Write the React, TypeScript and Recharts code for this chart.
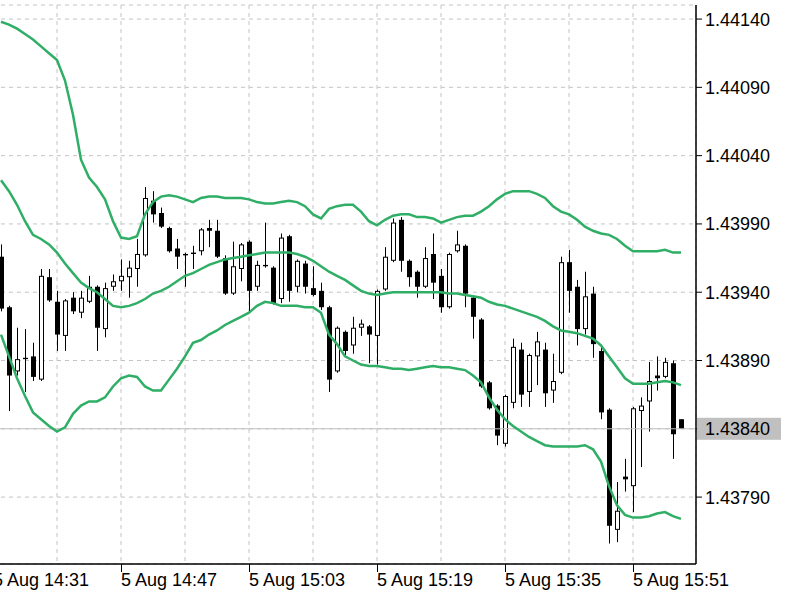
import React from "react";
import { ComposedChart, Bar, Line, XAxis, YAxis, CartesianGrid, ReferenceLine } from "recharts";

// 1-minute bars, 5 Aug 14:32 .. 15:57 (index 0 = 14:32)
const openPx = [
    1.43966, 1.43929, 1.43882, 1.43892, 1.43893, 1.43876, 1.43951, 1.43933, 1.43908, 1.43936,
    1.43925, 1.43933, 1.43944, 1.43913, 1.43944, 1.43948, 1.43951, 1.43957, 1.43967, 1.44007,
    1.43998, 1.43987, 1.43972, 1.43968, 1.43969, 1.4397, 1.43987, 1.43985, 1.43965, 1.43939,
    1.43957, 1.43977, 1.43944, 1.4396, 1.43958, 1.43935, 1.43981, 1.43944, 1.43961, 1.43943,
    1.43941, 1.43929, 1.43882, 1.43911, 1.43901, 1.43914, 1.43915, 1.43908, 1.43942, 1.43963,
    1.43993, 1.43963, 1.43955, 1.43944, 1.43968, 1.43952, 1.43929, 1.4397, 1.43974, 1.43936,
    1.4392, 1.43874, 1.43857, 1.43829, 1.43859, 1.43898, 1.43867, 1.43893, 1.43898, 1.43868,
    1.43881, 1.43962, 1.43944, 1.43913, 1.43939, 1.43897, 1.43854, 1.43766, 1.43805, 1.43798,
    1.43853, 1.4386, 1.43879, 1.43878, 1.43888, 1.43847,
];
const highPx = [
    1.43975, 1.4393, 1.43914, 1.43913, 1.43903, 1.43957, 1.43957, 1.43941, 1.43935, 1.4394,
    1.43941, 1.43952, 1.43945, 1.43947, 1.43953, 1.43964, 1.43963, 1.43979, 1.44017, 1.44014,
    1.44002, 1.43988, 1.43979, 1.43969, 1.43974, 1.43987, 1.43993, 1.43993, 1.43967, 1.43977,
    1.43976, 1.43978, 1.43963, 1.43991, 1.43959, 1.43983, 1.43982, 1.43964, 1.43963, 1.43959,
    1.43947, 1.4393, 1.43915, 1.43912, 1.43922, 1.4392, 1.43916, 1.43942, 1.43973, 1.43994,
    1.43995, 1.43964, 1.43956, 1.43973, 1.43983, 1.43957, 1.43969, 1.43985, 1.43975, 1.43937,
    1.43921, 1.43875, 1.43858, 1.43865, 1.43906, 1.43903, 1.43895, 1.43911, 1.43903, 1.43895,
    1.43966, 1.43971, 1.43949, 1.43955, 1.43944, 1.439, 1.43855, 1.43801, 1.43818, 1.43856,
    1.43863, 1.43889, 1.43893, 1.43892, 1.4389, 1.43847,
];
const lowPx = [
    1.43926, 1.43853, 1.43879, 1.43867, 1.43875, 1.43875, 1.43933, 1.43897, 1.43897, 1.43924,
    1.43921, 1.43932, 1.43897, 1.43907, 1.43941, 1.43941, 1.43936, 1.43944, 1.43966, 1.43991,
    1.43987, 1.43969, 1.43957, 1.43944, 1.43957, 1.43967, 1.43973, 1.43965, 1.43938, 1.43938,
    1.43948, 1.43925, 1.43941, 1.43958, 1.43931, 1.43932, 1.43933, 1.4394, 1.43939, 1.43937,
    1.43927, 1.43867, 1.43881, 1.43894, 1.43895, 1.43908, 1.43888, 1.43887, 1.43941, 1.43962,
    1.43955, 1.43944, 1.43936, 1.43943, 1.43935, 1.43925, 1.43928, 1.43969, 1.43929, 1.43906,
    1.4387, 1.43854, 1.43828, 1.43827, 1.43855, 1.43856, 1.43856, 1.43872, 1.43856, 1.43859,
    1.4388, 1.43925, 1.43901, 1.43909, 1.43892, 1.43847, 1.43756, 1.43757, 1.43794, 1.43779,
    1.43812, 1.43838, 1.43868, 1.43877, 1.43818, 1.4384,
];
const closePx = [
    1.43928, 1.43879, 1.43891, 1.43891, 1.43878, 1.43952, 1.43934, 1.43909, 1.43934, 1.43926,
    1.43936, 1.43944, 1.43914, 1.43943, 1.43948, 1.43952, 1.43958, 1.43968, 1.44009, 1.43997,
    1.43988, 1.4397, 1.43966, 1.43967, 1.43968, 1.43986, 1.43985, 1.43966, 1.43939, 1.43959,
    1.43975, 1.43941, 1.4396, 1.43959, 1.43932, 1.4398, 1.43941, 1.43963, 1.43944, 1.43938,
    1.43929, 1.43876, 1.43914, 1.43897, 1.43914, 1.43917, 1.43909, 1.43941, 1.43966, 1.43991,
    1.43963, 1.43951, 1.43944, 1.43965, 1.43947, 1.43929, 1.43968, 1.43975, 1.43939, 1.43922,
    1.43871, 1.43855, 1.43835, 1.43864, 1.439, 1.43865, 1.43894, 1.43904, 1.43866, 1.43875,
    1.43962, 1.43941, 1.43913, 1.43937, 1.43902, 1.43852, 1.43769, 1.4378, 1.43803, 1.43855,
    1.43857, 1.43875, 1.43877, 1.43889, 1.43836, 1.4384,
];

// Bollinger bands
const upperBand = [
    1.44138, 1.44136, 1.44133, 1.44129, 1.44125, 1.4412, 1.44115, 1.4411, 1.44095, 1.4407,
    1.44037, 1.44024, 1.44017, 1.44008, 1.43992, 1.4398, 1.43979, 1.43981, 1.43997, 1.44006,
    1.4401, 1.44011, 1.4401, 1.44008, 1.44006, 1.44009, 1.4401, 1.4401, 1.44009, 1.44009,
    1.44009, 1.44008, 1.44006, 1.44005, 1.44005, 1.44006, 1.44007, 1.44006, 1.44003, 1.43997,
    1.43994, 1.44001, 1.44003, 1.44004, 1.44004, 1.43999, 1.43992, 1.43989, 1.43993, 1.43996,
    1.43997, 1.43997, 1.43995, 1.43995, 1.43994, 1.43991, 1.43993, 1.43995, 1.43996, 1.43996,
    1.43999, 1.44003, 1.44008, 1.44012, 1.44014, 1.44014, 1.44014, 1.44012, 1.44009, 1.44003,
    1.43999, 1.43997, 1.43993, 1.43988, 1.43985, 1.43983, 1.43982, 1.43979, 1.43974, 1.4397,
    1.4397, 1.4397, 1.4397, 1.43971, 1.43969, 1.43969,
];
const middleBand = [
    1.44022, 1.44014, 1.44004, 1.43992, 1.43982, 1.43979, 1.43975, 1.43969, 1.43961, 1.43954,
    1.43947, 1.43943, 1.4394, 1.43935, 1.4393, 1.43929, 1.4393, 1.43932, 1.43935, 1.43939,
    1.43941, 1.43944, 1.43948, 1.43952, 1.43954, 1.43957, 1.4396, 1.43962, 1.43964, 1.43965,
    1.43966, 1.43967, 1.43968, 1.43969, 1.43969, 1.43969, 1.43969, 1.43968, 1.43966, 1.43963,
    1.43959, 1.43955, 1.43952, 1.43949, 1.43945, 1.43941, 1.43939, 1.43938, 1.43939, 1.4394,
    1.4394, 1.4394, 1.4394, 1.4394, 1.4394, 1.4394, 1.43939, 1.43939, 1.43938, 1.43937,
    1.43936, 1.43933, 1.43931, 1.4393, 1.43928, 1.43926, 1.43924, 1.43922, 1.43919, 1.43915,
    1.43912, 1.43911, 1.4391, 1.43908, 1.43906, 1.43901, 1.43893, 1.43885, 1.43877, 1.43873,
    1.43873, 1.43873, 1.43874, 1.43875, 1.43874, 1.43872,
];
const lowerBand = [
    1.43909, 1.43893, 1.43877, 1.43864, 1.43852, 1.43847, 1.43842, 1.43838, 1.43841, 1.43851,
    1.43857, 1.4386, 1.4386, 1.43863, 1.43871, 1.43877, 1.43879, 1.43878, 1.43871, 1.43868,
    1.43868, 1.43876, 1.43884, 1.43893, 1.43903, 1.43905, 1.43909, 1.43912, 1.43916, 1.43919,
    1.43922, 1.43925, 1.4393, 1.43933, 1.43932, 1.4393, 1.4393, 1.4393, 1.43929, 1.43929,
    1.43925, 1.43909, 1.43902, 1.43893, 1.4389, 1.43887, 1.43886, 1.43886, 1.43885, 1.43884,
    1.43884, 1.43883, 1.43884, 1.43885, 1.43886, 1.43885, 1.43885, 1.43884, 1.43883, 1.43879,
    1.43874, 1.43863, 1.43854, 1.43847, 1.43842, 1.43838, 1.43834, 1.43831, 1.43828, 1.43827,
    1.43827, 1.43827, 1.43827, 1.43828, 1.43825, 1.43816, 1.43798, 1.43784, 1.43777, 1.43775,
    1.43775, 1.43776, 1.43778, 1.43779, 1.43776, 1.43774,
];

const priceTicks = [1.4379, 1.4384, 1.4389, 1.4394, 1.4399, 1.4404, 1.4409, 1.4414];
const lastPrice = 1.4384;
const gridMinutes = [-1, 7, 15, 23, 31, 39, 47, 55, 63, 71, 79];
const labelMinutes = [-1, 15, 31, 47, 63, 79];
const timeLabels = ["5 Aug 14:31", "5 Aug 14:47", "5 Aug 15:03", "5 Aug 15:19", "5 Aug 15:35", "5 Aug 15:51"];

const data = openPx.map((open, i) => ({
    t: i,
    open,
    high: highPx[i],
    low: lowPx[i],
    close: closePx[i],
    range: [lowPx[i], highPx[i]],
    upper: upperBand[i],
    middle: middleBand[i],
    lower: lowerBand[i],
}));

const FONT = "'Liberation Sans', Arial, sans-serif";
const GREEN = "#2fae66";
const xDomain = [-1, 86.875];
const yDomain = [1.43741, 1.441503];

const Candle = (props: any) => {
    const { x, y, width, height, payload } = props;
    if (x == null || payload == null) return null;
    const cx = Math.round(x + width / 2);
    const top = Math.min(y, y + height);
    const bottom = Math.max(y, y + height);
    const { open, close, high, low } = payload;
    const k = high > low ? (bottom - top) / (high - low) : 0;
    const py = (p: number) => top + (high - p) * k;
    const bTop = py(Math.max(open, close));
    const bBot = py(Math.min(open, close));
    const h = Math.max(bBot - bTop, 1);
    const bull = close > open;
    return (
        <g>
            <line x1={cx + 0.5} x2={cx + 0.5} y1={top} y2={bottom} stroke="#000" strokeWidth={1} />
            {bull ? (
                <rect x={cx - 1.5} y={bTop + 0.5} width={4} height={Math.max(h - 1, 0.5)} fill="#fff" stroke="#000" strokeWidth={1} />
            ) : (
                <rect x={cx - 2} y={bTop} width={5} height={h} fill="#000" />
            )}
        </g>
    );
};

const TimeTick = (props: any) => {
    const { x, y, payload } = props;
    const k = labelMinutes.indexOf(payload.value);
    if (k < 0) return null;
    return (
        <g>
            <line x1={x + 0.5} x2={x + 0.5} y1={y - 8} y2={y} stroke="#000" />
            <text x={x} y={y} dy={14} textAnchor="start" fill="#000" fontFamily={FONT} fontSize={18}>
                {timeLabels[k]}
            </text>
        </g>
    );
};

const PriceTick = (props: any) => {
    const { x, y, payload } = props;
    const current = Math.abs(payload.value - lastPrice) < 1e-9;
    return (
        <g>
            {current && <rect x={x - 8} y={y - 11} width={84} height={22} fill="#c0c0c0" />}
            <text x={x} y={y} dy={6.5} textAnchor="start" fill="#000" fontFamily={FONT} fontSize={18}>
                {payload.value.toFixed(5)}
            </text>
        </g>
    );
};

export default function App() {
    return (
        <div style={{ position: "absolute", left: 0, top: 0, width: 800, height: 600, background: "#fff" }}>
            <ComposedChart width={800} height={600} data={data} margin={{ top: 5, right: 0, bottom: 0, left: -7 }}>
                <CartesianGrid stroke="#c4c4c4" strokeDasharray="4 4" />
                <XAxis
                    dataKey="t"
                    type="number"
                    domain={xDomain}
                    allowDataOverflow
                    ticks={gridMinutes}
                    interval={0}
                    height={36}
                    tickSize={8}
                    tickMargin={0}
                    tickLine={false}
                    axisLine={{ stroke: "#000", strokeWidth: 1.5 }}
                    tick={<TimeTick />}
                />
                <XAxis
                    xAxisId="top"
                    orientation="top"
                    dataKey="t"
                    type="number"
                    domain={xDomain}
                    allowDataOverflow
                    height={0}
                    tick={false}
                    tickLine={false}
                    axisLine={{ stroke: "#000", strokeWidth: 1.5 }}
                />
                <YAxis
                    orientation="right"
                    type="number"
                    domain={yDomain}
                    allowDataOverflow
                    ticks={priceTicks}
                    interval={0}
                    width={104}
                    tickSize={6}
                    tickMargin={3}
                    tickLine={{ stroke: "#000" }}
                    axisLine={{ stroke: "#000", strokeWidth: 1.5 }}
                    tick={<PriceTick />}
                />
                <ReferenceLine y={lastPrice} stroke="#c0c0c0" strokeWidth={1} />
                <Bar dataKey="range" barSize={6} shape={<Candle />} isAnimationActive={false} />
                <Line dataKey="upper" type="linear" stroke={GREEN} strokeWidth={2.5} dot={false} activeDot={false} isAnimationActive={false} />
                <Line dataKey="middle" type="linear" stroke={GREEN} strokeWidth={2.5} dot={false} activeDot={false} isAnimationActive={false} />
                <Line dataKey="lower" type="linear" stroke={GREEN} strokeWidth={2.5} dot={false} activeDot={false} isAnimationActive={false} />
            </ComposedChart>
        </div>
    );
}
